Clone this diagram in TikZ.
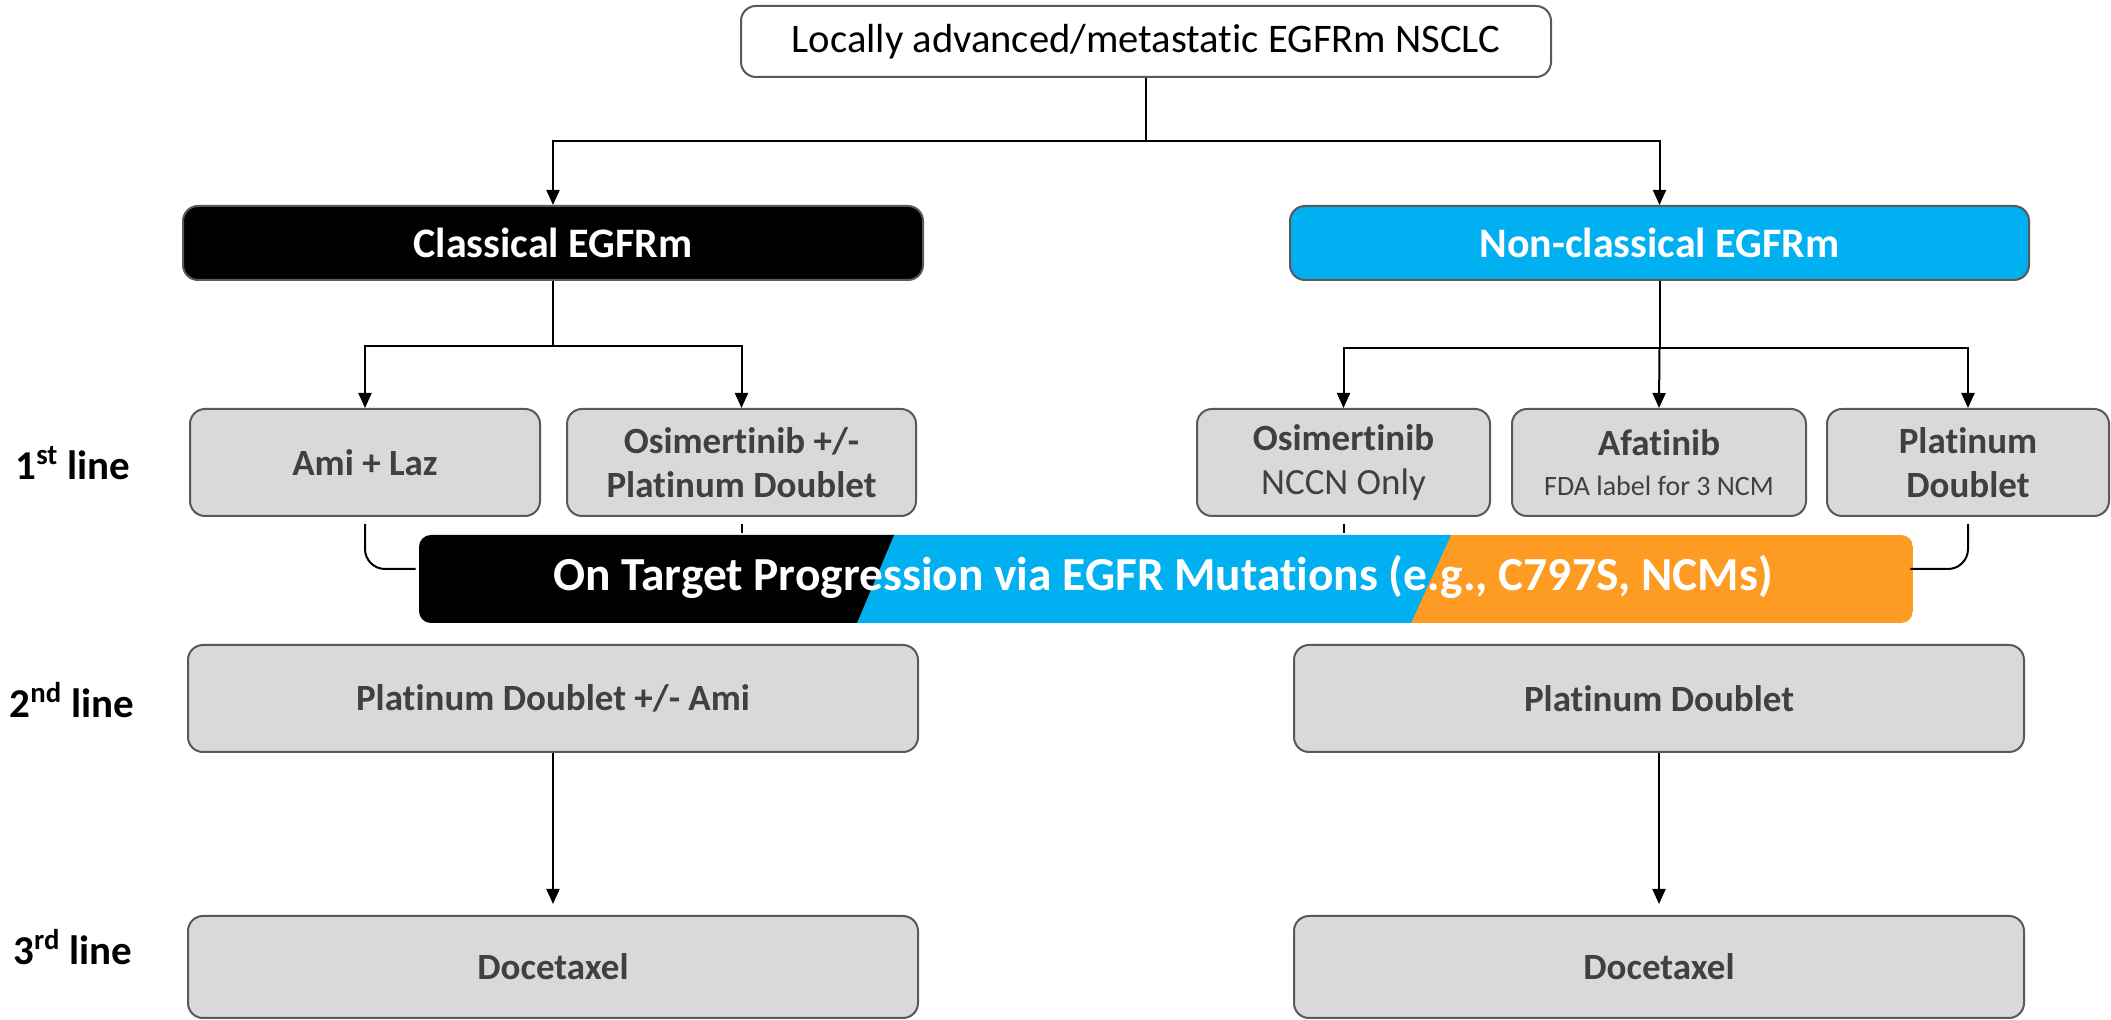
\documentclass[tikz,border=0pt]{standalone}
\usepackage{fontspec}
\setmainfont{Carlito}[Ligatures=CommonOff]
\usetikzlibrary{arrows.meta,calc}
\definecolor{cyanb}{HTML}{00B0F0}
\definecolor{orangeb}{HTML}{FD9B23}
\definecolor{boxfill}{HTML}{D9D9D9}
\definecolor{boxline}{HTML}{595959}
\definecolor{boxtext}{HTML}{404040}
\begin{document}
\begin{tikzpicture}[x=0.5pt,y=-0.5pt,
  box/.style={draw=boxline, line width=1pt, rounded corners=7.5pt, fill=boxfill, text=boxtext, align=center, inner sep=0pt, font=\fontsize{18.5}{22}\selectfont\bfseries},
  headbox/.style={box, text=white, font=\fontsize{21}{25}\selectfont\bfseries, minimum height=37pt},
  conn/.style={draw=black, line width=1pt},
  arr/.style={conn, -{Triangle[length=7.5pt,width=6.5pt]}},
  rowlab/.style={font=\fontsize{20.5}{24}\selectfont\bfseries, inner sep=0pt, text=black}
]
\useasboundingbox (0,0) rectangle (2111,1020);

% top
\node[box, fill=white, text=black, font=\fontsize{20.3}{24}\selectfont, minimum width=405pt, minimum height=35.5pt] (top) at (1146,41.5) {Locally advanced/metastatic EGFRm NSCLC};

% branch heads
\node[headbox, fill=black, minimum width=370pt] (classical) at (553,243) {Classical EGFRm};
\node[headbox, fill=cyanb, minimum width=369.5pt] (nonclassical) at (1659.5,243) {Non-classical EGFRm};

% 1st line
\node[box, minimum width=175pt, minimum height=53.5pt] (ami) at (365,462.5) {Ami + Laz};
\node[box, minimum width=174.5pt, minimum height=53.5pt] (osiC) at (741.5,462.5) {Osimertinib +/-\\Platinum Doublet};
\node[box, minimum width=146.5pt, minimum height=53.5pt] (osiN) at (1343.5,462.5) {Osimertinib\\{\mdseries NCCN Only}};
\node[box, minimum width=147pt, minimum height=53.5pt] (afa) at (1659,462.5) {Afatinib\\[-2pt]{\mdseries\fontsize{14}{17}\selectfont FDA label for 3 NCM}};
\node[box, minimum width=141pt, minimum height=53.5pt] (plat) at (1968,462.5) {Platinum\\Doublet};

% progression bar
\begin{scope}
  \clip[rounded corners=6pt] (419,535) rectangle (1913,623);
  \fill[orangeb] (419,535) rectangle (1913,623);
  \fill[cyanb] (857,623) -- (894,535) -- (1451,535) -- (1411,623) -- cycle;
  \fill[black] (419,535) -- (894,535) -- (857,623) -- (419,623) -- cycle;
\end{scope}
\node[inner sep=0pt, minimum width=747pt, minimum height=44pt, text=white, font=\fontsize{23.7}{28}\selectfont\bfseries] (bar) at (1163,577) {On Target Progression via EGFR Mutations (e.g., C797S, NCMs)};

% 2nd and 3rd line
\node[box, minimum width=365pt, minimum height=53.5pt] (l2L) at (553,698.5) {Platinum Doublet +/- Ami};
\node[box, minimum width=365pt, minimum height=53.5pt] (l2R) at (1659,698.5) {Platinum Doublet};
\node[box, minimum width=365pt, minimum height=51pt] (l3L) at (553,967) {Docetaxel};
\node[box, minimum width=365pt, minimum height=51pt] (l3R) at (1659,967) {Docetaxel};

% row labels
\node[rowlab] (r1) at (73,463) {1\textsuperscript{st} line};
\node[rowlab] (r2) at (72,700) {2\textsuperscript{nd} line};
\node[rowlab] (r3) at (73,947) {3\textsuperscript{rd} line};

% tree connectors
\draw[conn] (top.south) -- ++(0,-31.5pt) coordinate (tj);
\draw[arr] (tj) -| (classical.north);
\draw[arr] (tj) -| (nonclassical.north);

\draw[conn] (classical.south) -- ++(0,-32.5pt) coordinate (cj);
\draw[arr] (cj) -| (ami.north);
\draw[arr] (cj) -| (osiC.north);

\draw[conn] (nonclassical.south) -- ++(0,-33.5pt) coordinate (nj);
\draw[arr] (nj) -| (osiN.north);
\draw[arr] (nj) -- (afa.north);
\draw[arr] (nj) -| (plat.north);

% links from 1st line boxes into the progression bar
\draw[conn, rounded corners=10pt] ([yshift=-3.5pt]ami.south) |- ([yshift=4pt]bar.west);
\draw[conn] ([yshift=-3.5pt]osiC.south) -- (osiC.south |- bar.north);
\draw[conn] ([yshift=-3.5pt]osiN.south) -- (osiN.south |- bar.north);
\draw[conn, rounded corners=10pt] ([yshift=-3.5pt]plat.south) |- ([yshift=4pt]bar.east);

% 2nd -> 3rd
\draw[arr, shorten >=5.5pt] (l2L.south) -- (l3L.north);
\draw[arr, shorten >=5.5pt] (l2R.south) -- (l3R.north);
\end{tikzpicture}
\end{document}
